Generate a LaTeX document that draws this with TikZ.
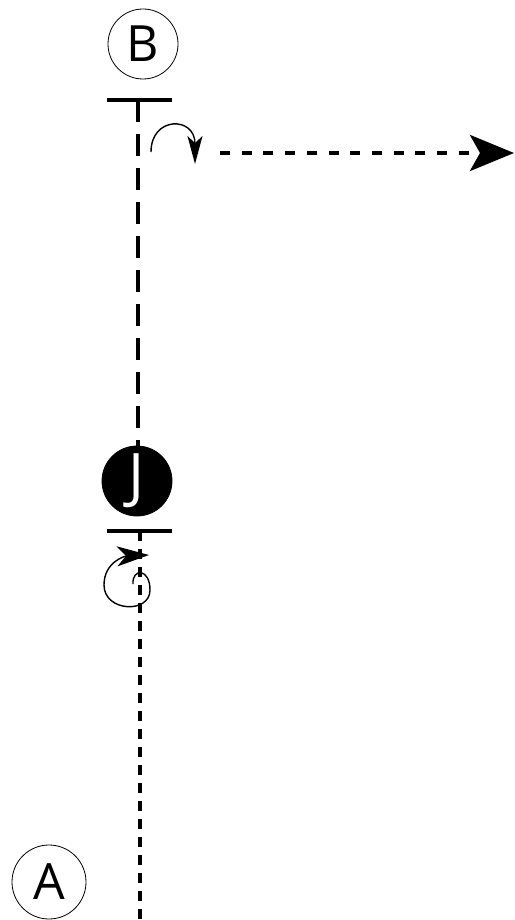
\documentclass[tikz,border=0pt]{standalone}
\usepackage{fontspec}
\setmainfont{Open Sans}
\usetikzlibrary{arrows.meta}
\begin{document}
\begin{tikzpicture}[x=1pt,y=-1pt,
  circ/.style={circle, draw, line width=0.8pt, minimum size=70pt, inner sep=0pt, font=\fontsize{50}{50}\selectfont},
  bar/.style={line width=4pt},
  longdash/.style={line width=4pt, dash pattern=on 22pt off 12pt},
  shortdash/.style={line width=4pt, dash pattern=on 10pt off 8pt},
  curl/.style={line width=1.4pt}]
\useasboundingbox (0,0) rectangle (514,920);
\node[circ] (B) at (143,44) {B};
\node[circ, minimum size=74pt] (A) at (49,882) {A};
\node[circ, fill=black, text=white, minimum size=70pt, font=\fontsize{60}{60}\selectfont] (J) at (137,481) {J};
% bars
\coordinate (b1) at (107,100);
\coordinate (b2) at (172,100);
\coordinate (j1) at (107,531);
\coordinate (j2) at (172,531);
\draw[bar] (b1) -- (b2);
\draw[bar] (j1) -- (j2);
% vertical dashed B-J
\coordinate (bt) at (138,100);
\draw[longdash] (bt) -- (J.north -| bt);
% vertical dotted down
\coordinate (jt) at (140,531);
\coordinate (jb) at (140,920);
\draw[shortdash] (jt) -- (jb);
% horizontal arrow
\coordinate (h1) at (220,153);
\coordinate (h2) at (514,153);
\draw[line width=4pt, dash pattern=on 10pt off 11.7pt, -{Stealth[length=44pt,width=36pt,inset=10pt]}] (h1) -- (h2);
% curved arrow near B
\coordinate (c1) at (151,152);
\coordinate (c2) at (195,164);
\draw[curl, -{Stealth[length=28pt,width=15pt,inset=7pt]}] (c1) .. controls (151,116) and (195,116) .. (c2);
% loop below J
\coordinate (l1) at (133,584);
\coordinate (l2) at (149,555);
\draw[curl, -{Stealth[length=32pt,width=20pt,inset=9pt]}] (l1) .. controls (132,568) and (150,568) .. (150,590) .. controls (150,614) and (104,612) .. (104,585) .. controls (104,562) and (125,556) .. (l2);
\end{tikzpicture}
\end{document}
